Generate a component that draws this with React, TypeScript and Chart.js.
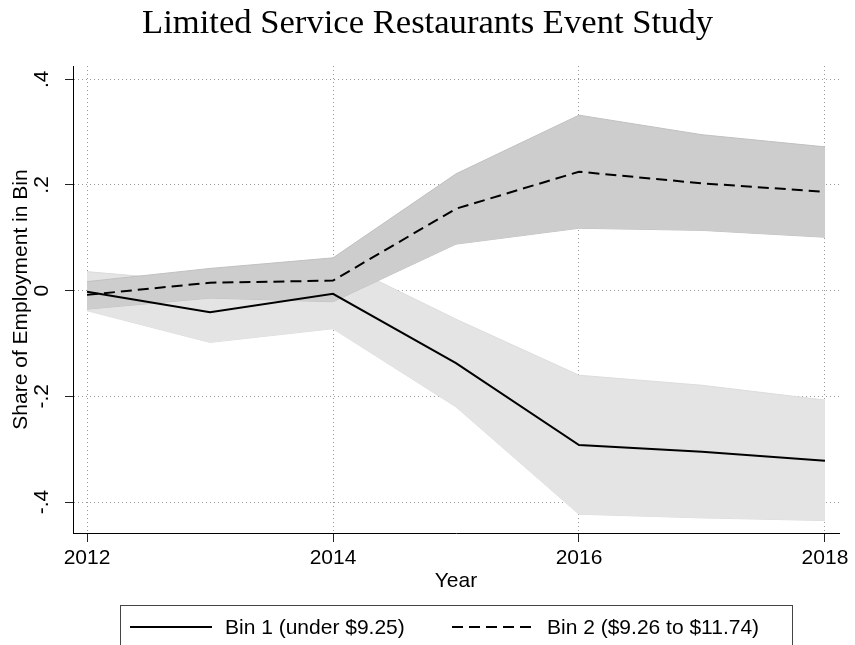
import React, { useEffect, useRef } from "react";
import { Chart, registerables } from "chart.js";

Chart.register(...registerables);

const TITLE = "Limited Service Restaurants Event Study";
const X_TITLE = "Year";
const Y_TITLE = "Share of Employment in Bin";

const YEARS = [2012, 2013, 2014, 2015, 2016, 2017, 2018];
const X_TICKS = [2012, 2014, 2016, 2018];
const X_TICK_LABELS = ["2012", "2014", "2016", "2018"];
const Y_TICKS = [-0.4, -0.2, 0, 0.2, 0.4];
const Y_TICK_LABELS = ["-.4", "-.2", "0", ".2", ".4"];

const BIN1 = [-0.002, -0.041, -0.006, -0.137, -0.292, -0.305, -0.322];
const BIN1_LO = [-0.038, -0.098, -0.072, -0.22, -0.423, -0.43, -0.435];
const BIN1_HI = [0.036, 0.016, 0.06, -0.054, -0.16, -0.179, -0.207];

const BIN2 = [-0.008, 0.015, 0.019, 0.155, 0.225, 0.203, 0.187];
const BIN2_LO = [-0.035, -0.014, -0.021, 0.088, 0.118, 0.114, 0.101];
const BIN2_HI = [0.017, 0.042, 0.062, 0.221, 0.332, 0.295, 0.272];

const LEGEND_LABELS = ["Bin 1 (under $9.25)", "Bin 2 ($9.26 to $11.74)"];

const SANS = '"Liberation Sans", Arial, sans-serif';
const SERIF = '"Liberation Serif", "Times New Roman", serif';

const pts = (vals: number[]) => YEARS.map((x, i) => ({ x, y: vals[i] }));

const textPlugin = {
  id: "stataText",
  afterDraw(chart: any) {
    const ctx = chart.ctx as CanvasRenderingContext2D;
    const xs = chart.scales.x;
    const ys = chart.scales.y;
    const area = chart.chartArea;
    ctx.save();
    ctx.fillStyle = "#000";

    // Title (Computer-Modern-like width)
    ctx.font = `33px ${SERIF}`;
    ctx.textAlign = "center";
    ctx.textBaseline = "alphabetic";
    const tw = ctx.measureText(TITLE).width;
    const sx = 571 / tw;
    ctx.save();
    ctx.translate(427.5, 33);
    ctx.scale(sx, 1);
    ctx.fillText(TITLE, 0, 0);
    ctx.restore();

    // Y tick labels (vertical)
    ctx.font = `21px ${SANS}`;
    Y_TICKS.forEach((v, i) => {
      const y = ys.getPixelForValue(v);
      ctx.save();
      ctx.translate(48, y);
      ctx.rotate(-Math.PI / 2);
      ctx.textAlign = "center";
      ctx.fillText(Y_TICK_LABELS[i], 0, 0);
      ctx.restore();
    });

    // Y title
    ctx.save();
    ctx.translate(27, (area.top + area.bottom) / 2);
    ctx.rotate(-Math.PI / 2);
    ctx.textAlign = "center";
    ctx.fillText(Y_TITLE, 0, 0);
    ctx.restore();

    // X tick labels
    ctx.textAlign = "center";
    X_TICKS.forEach((v, i) => {
      ctx.fillText(X_TICK_LABELS[i], xs.getPixelForValue(v), 564);
    });

    // X title
    ctx.fillText(X_TITLE, (area.left + area.right) / 2, 587);

    // Legend
    ctx.strokeStyle = "#444";
    ctx.lineWidth = 1;
    ctx.strokeRect(120.5, 605.5, 672, 60);

    ctx.strokeStyle = "#000";
    ctx.lineWidth = 2;
    ctx.beginPath();
    ctx.moveTo(130, 627);
    ctx.lineTo(212, 627);
    ctx.stroke();

    ctx.setLineDash([11, 6]);
    ctx.beginPath();
    ctx.moveTo(452, 627);
    ctx.lineTo(536, 627);
    ctx.stroke();
    ctx.setLineDash([]);

    ctx.textAlign = "left";
    ctx.fillText(LEGEND_LABELS[0], 225, 634);
    ctx.fillText(LEGEND_LABELS[1], 547, 634);

    ctx.restore();
  },
};

export default function App() {
  const canvasRef = useRef<HTMLCanvasElement | null>(null);

  useEffect(() => {
    const canvas = canvasRef.current;
    if (!canvas) return;
    const chart = new Chart(canvas, {
      type: "line",
      data: {
        datasets: [
          {
            label: LEGEND_LABELS[0],
            data: pts(BIN1),
            borderColor: "#000",
            borderWidth: 2,
            pointRadius: 0,
            fill: false,
            tension: 0,
          },
          {
            label: LEGEND_LABELS[1],
            data: pts(BIN2),
            borderColor: "#000",
            borderWidth: 2,
            borderDash: [11, 6],
            pointRadius: 0,
            fill: false,
            tension: 0,
          },
          {
            label: "Bin 2 upper",
            data: pts(BIN2_HI),
            borderColor: "#c0c0c0",
            borderWidth: 1,
            backgroundColor: "#cdcdcd",
            pointRadius: 0,
            fill: "+1",
            tension: 0,
          },
          {
            label: "Bin 2 lower",
            data: pts(BIN2_LO),
            borderColor: "#c0c0c0",
            borderWidth: 1,
            pointRadius: 0,
            fill: false,
            tension: 0,
          },
          {
            label: "Bin 1 upper",
            data: pts(BIN1_HI),
            borderColor: "#dcdcdc",
            borderWidth: 1,
            backgroundColor: "#e4e4e4",
            pointRadius: 0,
            fill: "+1",
            tension: 0,
          },
          {
            label: "Bin 1 lower",
            data: pts(BIN1_LO),
            borderColor: "#dcdcdc",
            borderWidth: 1,
            pointRadius: 0,
            fill: false,
            tension: 0,
          },
        ],
      },
      options: {
        responsive: false,
        animation: false,
        devicePixelRatio: 1,
        layout: { padding: { left: 73, top: 66, right: 16, bottom: 112 } },
        plugins: {
          legend: { display: false },
          title: { display: false },
          tooltip: { enabled: false },
        },
        scales: {
          x: {
            type: "linear",
            min: 2011.886,
            max: 2018.114,
            afterBuildTicks: (s: any) => {
              s.ticks = X_TICKS.map((v) => ({ value: v }));
            },
            afterFit: (s: any) => {
              s.height = 0;
            },
            ticks: { display: false },
            grid: {
              color: "rgba(0,0,0,0.4)",
              lineWidth: 1,
              drawTicks: true,
              tickLength: 9,
              tickColor: "#222",
              tickWidth: 1,
            },
            border: { display: true, color: "#000", width: 1, dash: [1, 3] },
          },
          y: {
            type: "linear",
            min: -0.4585,
            max: 0.425,
            afterBuildTicks: (s: any) => {
              s.ticks = Y_TICKS.map((v) => ({ value: v }));
            },
            afterFit: (s: any) => {
              s.width = 0;
            },
            ticks: { display: false },
            grid: {
              color: "rgba(0,0,0,0.4)",
              lineWidth: 1,
              drawTicks: true,
              tickLength: 8,
              tickColor: "#222",
              tickWidth: 1,
            },
            border: { display: true, color: "#000", width: 1, dash: [1, 3] },
          },
        },
      },
      plugins: [textPlugin],
    });
    return () => chart.destroy();
  }, []);

  return (
    <div style={{ position: "absolute", left: 0, top: 0, width: 855, height: 645, background: "#fff" }}>
      <canvas ref={canvasRef} width={855} height={645} style={{ display: "block" }} />
    </div>
  );
}
